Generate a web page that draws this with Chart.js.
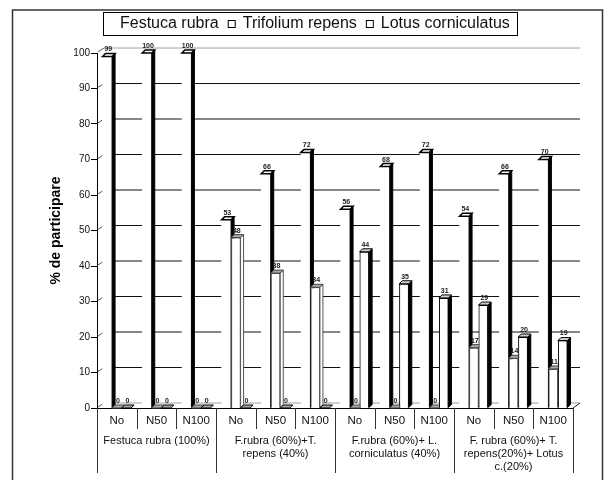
<!DOCTYPE html>
<html>
<head>
<meta charset="utf-8">
<script src="https://cdn.jsdelivr.net/npm/chart.js@4.4.0/dist/chart.umd.min.js"></script>
<style>
  html, body { margin: 0; padding: 0; background: #fff; }
  #wrap { width: 605px; height: 480px; }
</style>
</head>
<body>
<div id="wrap"><canvas id="chart" width="605" height="480"></canvas></div>
<script>
// Fertilisation levels (one per column) and the four sward mixtures (one per group of three)
const treatments = ['No', 'N50', 'N100', 'No', 'N50', 'N100', 'No', 'N50', 'N100', 'No', 'N50', 'N100'];
const mixtures = [
  ['Festuca rubra (100%)'],
  ['F.rubra (60%)+T.', 'repens (40%)'],
  ['F.rubra (60%)+ L.', 'corniculatus (40%)'],
  ['F. rubra (60%)+ T.', 'repens(20%)+ Lotus', 'c.(20%)']
];

// Share of each species in the sward, %
const festucaRubra      = [99, 100, 100, 53, 66, 72, 56, 68, 72, 54, 66, 70];
const trifoliumRepens   = [0, 0, 0, 48, 38, 34, 0, 0, 0, 17, 14, 11];
const lotusCorniculatus = [0, 0, 0, 0, 0, 0, 44, 35, 31, 29, 20, 19];

const yTicks = [0, 10, 20, 30, 40, 50, 60, 70, 80, 90, 100];

const FONT = '"Liberation Sans", Arial, Helvetica, sans-serif';

// depth of the back wall and of the bar blocks (pseudo 3-D)
const WALL = { dx: 7, dy: -5 };
const BAR = { dx: 3, dy: -3 };

// look of the side and top faces, per dataset index
const faces = [
  { side: '#000', sideStroke: '#000', top: '#fff', topZero: '#fff', topStroke: '#000', topWidth: 1.5 },
  { side: '#fff', sideStroke: '#555', top: '#a8a8a8', topZero: '#a8a8a8', topStroke: '#444', topWidth: 1 },
  { side: '#000', sideStroke: '#000', top: '#d0d0d0', topZero: '#a8a8a8', topStroke: '#000', topWidth: 1 }
];

function poly(ctx, pts, fill, stroke, lw) {
  ctx.beginPath();
  ctx.moveTo(pts[0][0], pts[0][1]);
  for (let i = 1; i < pts.length; i++) ctx.lineTo(pts[i][0], pts[i][1]);
  ctx.closePath();
  if (fill) { ctx.fillStyle = fill; ctx.fill(); }
  if (stroke) { ctx.strokeStyle = stroke; ctx.lineWidth = lw || 1; ctx.stroke(); }
}

// back wall grid, floor edges and the slanted tick marks
const wallPlugin = {
  id: 'wall',
  beforeDatasetsDraw(chart) {
    const { ctx, chartArea: a, scales: { y } } = chart;
    ctx.save();
    yTicks.forEach(v => {
      const py = y.getPixelForValue(v);
      ctx.beginPath();
      ctx.moveTo(a.left + WALL.dx, py + WALL.dy);
      ctx.lineTo(a.right + WALL.dx, py + WALL.dy);
      ctx.strokeStyle = (v === 0 || v === 100) ? '#a0a0a0' : '#111';
      ctx.lineWidth = 1;
      ctx.stroke();
      ctx.beginPath();
      ctx.moveTo(a.left + 1, py - 1);
      ctx.lineTo(a.left + WALL.dx, py + WALL.dy);
      ctx.strokeStyle = '#555';
      ctx.stroke();
    });
    ctx.beginPath();
    ctx.moveTo(a.right, a.bottom);
    ctx.lineTo(a.right + WALL.dx, a.bottom + WALL.dy);
    ctx.strokeStyle = '#222';
    ctx.stroke();
    ctx.restore();
  }
};

// Bars are drawn front to back per dataset: front face, then side and top faces,
// so each block hides the side of the block on its left.
const blockPlugin = {
  id: 'blocks',
  afterDatasetsDraw(chart) {
    const { ctx } = chart;
    ctx.save();
    const n = chart.data.datasets.length;
    for (let d = 0; d < n; d++) {
      const meta = chart.getDatasetMeta(d);
      const f = faces[d];
      meta.data.forEach(el => {
        const { x, y, base, width } = el.getProps(['x', 'y', 'base', 'width'], true);
        const r = x + width / 2;
        el.draw(ctx);
        if (base - y > 0.5) {
          poly(ctx, [[r, y], [r + BAR.dx, y + BAR.dy], [r + BAR.dx, base + BAR.dy], [r, base]],
            f.side, f.sideStroke, 1);
        }
      });
      meta.data.forEach((el, i) => {
        const { x, y, width } = el.getProps(['x', 'y', 'width'], true);
        const l = x - width / 2, r = x + width / 2;
        const v = chart.data.datasets[d].data[i];
        poly(ctx, [[l, y], [l + BAR.dx, y + BAR.dy], [r + BAR.dx, y + BAR.dy], [r, y]],
          v === 0 ? f.topZero : f.top, f.topStroke, f.topWidth);
      });
    }
    // value labels on top
    ctx.fillStyle = '#222';
    ctx.font = 'bold 7px ' + FONT;
    ctx.textAlign = 'center';
    ctx.textBaseline = 'bottom';
    for (let d = 0; d < n; d++) {
      const meta = chart.getDatasetMeta(d);
      meta.data.forEach((el, i) => {
        const { x, y } = el.getProps(['x', 'y'], true);
        ctx.fillText(String(chart.data.datasets[d].data[i]), x + 1, y + BAR.dy - 0.5);
      });
    }
    ctx.restore();
  }
};

// cell borders of the two-row category table, legend box and outer frame
const framePlugin = {
  id: 'frame',
  afterDraw(chart) {
    const { ctx, chartArea: a, scales: { x } } = chart;
    ctx.save();
    const step = x.getPixelForValue(1) - x.getPixelForValue(0);
    ctx.strokeStyle = '#333';
    ctx.lineWidth = 1;
    for (let i = 0; i <= treatments.length; i++) {
      const px = Math.round(x.getPixelForValue(i) - step / 2) + 0.5;
      ctx.beginPath();
      ctx.moveTo(px, a.bottom);
      ctx.lineTo(px, a.bottom + (i % 3 === 0 ? 65 : 21));
      ctx.stroke();
    }

    // legend
    const box = { l: 103, t: 12, r: 517, b: 35 };
    ctx.strokeStyle = '#000';
    ctx.strokeRect(box.l + 0.5, box.t + 0.5, box.r - box.l, box.b - box.t);
    ctx.font = '16px ' + FONT;
    ctx.textBaseline = 'middle';
    ctx.textAlign = 'left';
    const cy = (box.t + box.b) / 2 + 0.5;
    let cx = box.l + 2;
    chart.data.datasets.forEach((ds, i) => {
      if (i > 0) {
        ctx.fillStyle = '#fff';
        ctx.fillRect(cx + 0.5, cy - 3, 7, 7);
        ctx.strokeStyle = '#000';
        ctx.strokeRect(cx + 0.5, cy - 3.5, 7, 7);
      }
      cx += 7 + 8;
      ctx.fillStyle = '#111';
      ctx.fillText(ds.label, cx, cy);
      cx += ctx.measureText(ds.label).width + 9;
    });

    // outer frame
    ctx.strokeStyle = '#333';
    ctx.lineWidth = 1.5;
    ctx.strokeRect(12.5, 10, 590, 480);
    ctx.restore();
  }
};

new Chart(document.getElementById('chart'), {
  type: 'bar',
  data: {
    labels: treatments,
    datasets: [
      { label: 'Festuca rubra', data: festucaRubra, backgroundColor: '#fff', borderWidth: 0 },
      { label: 'Trifolium repens', data: trifoliumRepens, backgroundColor: '#fff', borderColor: '#555', borderWidth: 1 },
      { label: 'Lotus corniculatus', data: lotusCorniculatus, backgroundColor: '#fff', borderColor: '#000', borderWidth: 1 }
    ]
  },
  options: {
    responsive: false,
    devicePixelRatio: 1,
    animation: false,
    events: [],
    categoryPercentage: 0.72,
    barPercentage: 1.0,
    layout: { padding: { left: 48, right: 32, top: 53, bottom: 2 } },
    plugins: { legend: { display: false }, tooltip: { enabled: false }, title: { display: false } },
    scales: {
      x: {
        type: 'category',
        position: 'bottom',
        weight: 0,
        offset: true,
        grid: { display: false, drawTicks: false },
        border: { display: true, color: '#000', width: 1 },
        ticks: { font: { family: FONT, size: 11.5 }, color: '#111', padding: 6, maxRotation: 0, autoSkip: false },
        afterFit(s) { s.height = 20; }
      },
      x2: {
        type: 'category',
        position: 'bottom',
        weight: 1,
        labels: mixtures,
        offset: true,
        grid: { display: false, drawTicks: false },
        border: { display: false },
        ticks: { font: { family: FONT, size: 11, lineHeight: 1.15 }, color: '#111', padding: 7, maxRotation: 0, autoSkip: false },
        afterFit(s) { s.height = 50; }
      },
      y: {
        min: 0,
        max: 100,
        ticks: { stepSize: 10, font: { family: FONT, size: 10 }, color: '#111', padding: 1 },
        grid: { display: true, drawOnChartArea: false, drawTicks: true, tickLength: 6, color: '#000' },
        border: { display: true, color: '#000', width: 1 },
        title: {
          display: true,
          text: '% de participare',
          font: { family: FONT, size: 14, weight: 'bold' },
          color: '#000',
          padding: { top: 0, bottom: 0 }
        },
        afterFit(s) { s.width = 49; }
      }
    }
  },
  plugins: [wallPlugin, blockPlugin, framePlugin]
});
</script>
</body>
</html>
